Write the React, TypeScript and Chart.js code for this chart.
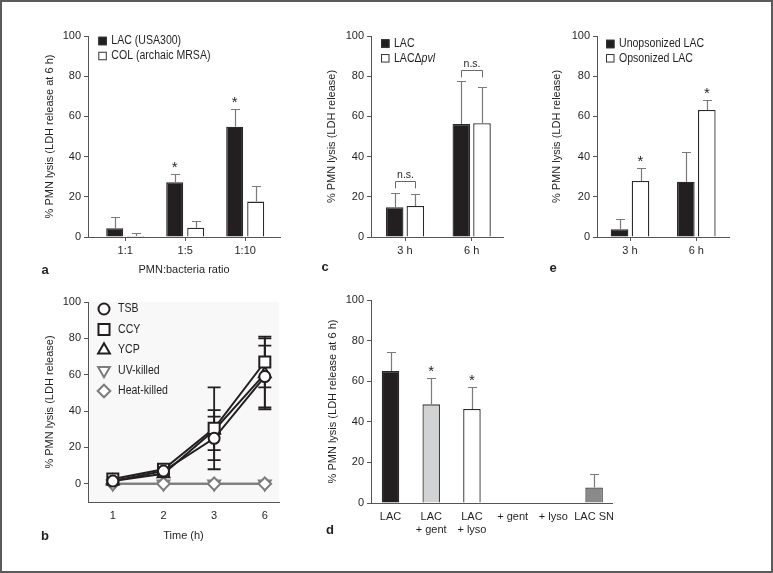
import React, { useEffect, useRef } from "react";
import { Chart, registerables } from "chart.js";
import { drawPoint } from "chart.js/helpers";
Chart.register(...registerables);

const W = 773;
const H = 573;
const SANS = '"Liberation Sans", Arial, Helvetica, sans-serif';
const INK = "#231f20";
const AXIS = "#555555";
const ERR = "#7a7a7a";
const BLACK = "#231f20";
const WHITE = "#ffffff";
const GRAY = "#7d7d7d";

// ---------- Panel a ----------
const aCategories = ["1:1", "1:5", "1:10"];
const aLAC = [4.3, 27.2, 54.9];
const aLACErr = [5.8, 4.1, 8.8];
const aCOL = [0.5, 4.6, 17.6];
const aCOLErr = [1.3, 3.4, 7.8];
const aStarBars = [1, 2];

// ---------- Panel b ----------
const bTimes = ["1", "2", "3", "6"];
const bTSB = [1.5, 7, 25, 59];
const bTSBErr = [0, 0, 12, 17];
const bCCY = [2.6, 8, 30.5, 67];
const bCCYErr = [0, 0, 22.5, 14];
const bYCP = [1.5, 5.5, 29.5, 60.5];
const bYCPErr = [0, 0, 11, 19.5];
const bUV = [0, 0, 0, 0];
const bHeat = [0, 0, 0, 0];

// ---------- Panel c ----------
const cCategories = ["3 h", "6 h"];
const cLAC = [14.8, 56.2];
const cLACErr = [7.2, 21.3];
const cPVL = [15.4, 56.6];
const cPVLErr = [6.1, 18.0];
const cBracketTop = [28, 83];
const cBracketLeg = [24.2, 79.4];

// ---------- Panel d ----------
const dCategories = [["LAC"], ["LAC", "+ gent"], ["LAC", "+ lyso"], ["+ gent"], ["+ lyso"], ["LAC SN"]];
const dValues = [65, 48.6, 46.3, 0.3, 0.3, 7.6];
const dErr = [9.4, 13.1, 10.7, 0, 0, 6.7];
const dStarBars = [1, 2];

// ---------- Panel e ----------
const eCategories = ["3 h", "6 h"];
const eUnops = [3.8, 27.5];
const eUnopsErr = [5.0, 14.9];
const eOps = [27.9, 63.2];
const eOpsErr = [6.3, 4.8];
const eStarBars = [0, 1];

const yTickValues = [0, 20, 40, 60, 80, 100];

function pad(L: number, R: number, T: number, B: number, yw: number, xh: number) {
  return { left: L - yw, right: W - R, top: T, bottom: H - B - xh };
}

function yAxis(min: number, max: number, width: number, title: string) {
  return {
    type: "linear",
    min,
    max,
    afterBuildTicks: (s: any) => {
      s.ticks = yTickValues.map((v) => ({ value: v }));
    },
    afterFit: (s: any) => {
      s.width = width;
    },
    grid: { display: true, drawOnChartArea: false, drawTicks: true, tickLength: 4, color: AXIS, lineWidth: 1 },
    border: { display: true, color: AXIS, width: 1 },
    ticks: { padding: 3, color: INK, font: { family: SANS, size: 11 } },
    title: { display: true, text: title, color: INK, font: { family: SANS, size: 11 }, padding: 0 },
  };
}

function xAxis(min: number, max: number, labels: any[], height: number, title: string | null, showTicks: boolean) {
  return {
    type: "linear",
    min,
    max,
    offset: false,
    afterBuildTicks: (s: any) => {
      s.ticks = labels.map((_: any, i: number) => ({ value: i }));
    },
    afterFit: (s: any) => {
      s.height = height;
    },
    grid: {
      display: true,
      offset: false,
      drawOnChartArea: false,
      drawTicks: true,
      tickLength: 4,
      color: showTicks ? AXIS : "rgba(0,0,0,0)",
      lineWidth: 1,
    },
    border: { display: true, color: AXIS, width: 1 },
    ticks: {
      padding: 3,
      autoSkip: false,
      maxRotation: 0,
      minRotation: 0,
      color: INK,
      font: { family: SANS, size: 11 },
      callback: (v: any) => labels[Math.round(Number(v))],
    },
    title: title
      ? { display: true, text: title, color: INK, font: { family: SANS, size: 11 }, padding: 0 }
      : { display: false },
  };
}

const common = {
  responsive: false,
  animation: false,
  devicePixelRatio: 1,
  events: [],
  plugins: { legend: { display: false }, tooltip: { enabled: false } },
};

function barDs(label: string, values: number[], fill: any, border: any, cat: number, bar: number) {
  return {
    label,
    data: values.map((y, i) => ({ x: i, y })),
    backgroundColor: fill,
    borderColor: border,
    borderWidth: 1.3,
    categoryPercentage: cat,
    barPercentage: bar,
  };
}

function errPlugin(errs: number[][], capHalf = 4.5) {
  return {
    id: "barErrors",
    afterDatasetsDraw(chart: any) {
      const ctx = chart.ctx;
      const ys = chart.scales.y;
      ctx.save();
      ctx.strokeStyle = ERR;
      ctx.lineWidth = 1.2;
      chart.data.datasets.forEach((ds: any, di: number) => {
        const e = errs[di];
        if (!e) return;
        const meta = chart.getDatasetMeta(di);
        meta.data.forEach((el: any, i: number) => {
          if (!e[i]) return;
          const v = ds.data[i].y;
          const y0 = ys.getPixelForValue(v);
          const y1 = ys.getPixelForValue(v + e[i]);
          const x = Math.round(el.x) + 0.5;
          ctx.beginPath();
          ctx.moveTo(x, y0);
          ctx.lineTo(x, Math.round(y1) + 0.5);
          ctx.moveTo(x - capHalf, Math.round(y1) + 0.5);
          ctx.lineTo(x + capHalf, Math.round(y1) + 0.5);
          ctx.stroke();
        });
      });
      ctx.restore();
    },
  };
}

function extras(fn: (ctx: CanvasRenderingContext2D, chart: any) => void) {
  return {
    id: "extras",
    afterDraw(chart: any) {
      const ctx = chart.ctx;
      ctx.save();
      fn(ctx, chart);
      ctx.restore();
    },
  };
}

// condensed legend text (the original typeface is narrower than the installed sans)
function condText(ctx: CanvasRenderingContext2D, text: string, x: number, y: number, italic = false) {
  const sx = 0.88;
  ctx.font = `${italic ? "italic " : ""}12px ${SANS}`;
  ctx.save();
  ctx.translate(x, y);
  ctx.scale(sx, 1);
  ctx.fillText(text, 0, 0);
  ctx.restore();
  return ctx.measureText(text).width * sx;
}

function letter(ctx: CanvasRenderingContext2D, t: string, x: number, y: number) {
  ctx.fillStyle = INK;
  ctx.font = `bold 13px ${SANS}`;
  ctx.textAlign = "center";
  ctx.textBaseline = "middle";
  ctx.fillText(t, x, y);
}

function squareLegend(
  ctx: CanvasRenderingContext2D,
  x: number,
  ys: number[],
  items: { parts: { text: string; italic?: boolean }[]; fill: string }[]
) {
  const s = 8.5;
  items.forEach((it, i) => {
    const y = ys[i];
    ctx.fillStyle = it.fill;
    ctx.fillRect(x, y - s / 2, s, s);
    ctx.strokeStyle = "#333";
    ctx.lineWidth = 1;
    ctx.strokeRect(x + 0.5, y - s / 2 + 0.5, s - 1, s - 1);
    ctx.fillStyle = INK;
    ctx.textAlign = "left";
    ctx.textBaseline = "middle";
    let tx = x + s + 4.5;
    it.parts.forEach((p) => {
      tx += condText(ctx, p.text, tx, y, !!p.italic);
    });
  });
}

function stars(ctx: CanvasRenderingContext2D, chart: any, di: number, idx: number[], values: number[], errs: number[]) {
  const meta = chart.getDatasetMeta(di);
  const ys = chart.scales.y;
  ctx.fillStyle = INK;
  ctx.font = `15px ${SANS}`;
  ctx.textAlign = "center";
  ctx.textBaseline = "alphabetic";
  idx.forEach((i) => {
    const cap = ys.getPixelForValue(values[i] + errs[i]);
    ctx.fillText("*", meta.data[i].x, cap - 2);
  });
}

function cfgA() {
  const L = 88, R = 280, T = 36, B = 237, yw = 44.6, xh = 39.6;
  return {
    type: "bar",
    data: {
      datasets: [
        barDs("LAC (USA300)", aLAC, BLACK, "#2a2a2a", 0.7, 0.81),
        barDs("COL (archaic MRSA)", aCOL, WHITE, "#2a2a2a", 0.7, 0.81),
      ],
    },
    options: {
      ...common,
      layout: { padding: pad(L, R, T, B, yw, xh) },
      scales: {
        x: xAxis(-0.62, 2.58, aCategories, xh, "PMN:bacteria ratio", true),
        y: yAxis(0, 100, yw, "% PMN lysis (LDH release at 6 h)"),
      },
    },
    plugins: [
      errPlugin([aLACErr, aCOLErr]),
      extras((ctx, chart) => {
        squareLegend(ctx, 98.3, [41, 56], [
          { parts: [{ text: "LAC (USA300)" }], fill: BLACK },
          { parts: [{ text: "COL (archaic MRSA)" }], fill: WHITE },
        ]);
        stars(ctx, chart, 0, aStarBars, aLAC, aLACErr);
        letter(ctx, "a", 45, 270);
      }),
    ],
  };
}

function cfgC() {
  const L = 371, R = 503, T = 36, B = 237, yw = 45.9, xh = 30;
  return {
    type: "bar",
    data: {
      datasets: [
        barDs("LAC", cLAC, BLACK, "#2a2a2a", 0.62, 0.85),
        barDs("LACΔpvl", cPVL, WHITE, "#2a2a2a", 0.62, 0.85),
      ],
    },
    options: {
      ...common,
      layout: { padding: pad(L, R, T, B, yw, xh) },
      scales: {
        x: xAxis(-0.51, 1.47, cCategories, xh, null, true),
        y: yAxis(0, 100, yw, "% PMN lysis (LDH release)"),
      },
    },
    plugins: [
      errPlugin([cLACErr, cPVLErr]),
      extras((ctx, chart) => {
        squareLegend(ctx, 381, [43.5, 58.3], [
          { parts: [{ text: "LAC" }], fill: BLACK },
          { parts: [{ text: "LACΔ" }, { text: "pvl", italic: true }], fill: WHITE },
        ]);
        const m0 = chart.getDatasetMeta(0);
        const m1 = chart.getDatasetMeta(1);
        const ys = chart.scales.y;
        cCategories.forEach((_, i) => {
          const x0 = Math.round(m0.data[i].x) + 0.5;
          const x1 = Math.round(m1.data[i].x) + 0.5;
          const yt = Math.round(ys.getPixelForValue(cBracketTop[i])) + 0.5;
          const yl = ys.getPixelForValue(cBracketLeg[i]);
          ctx.strokeStyle = "#6a6a6a";
          ctx.lineWidth = 1;
          ctx.beginPath();
          ctx.moveTo(x0, yl);
          ctx.lineTo(x0, yt);
          ctx.lineTo(x1, yt);
          ctx.lineTo(x1, yl);
          ctx.stroke();
          ctx.fillStyle = INK;
          ctx.font = `10.5px ${SANS}`;
          ctx.textAlign = "center";
          ctx.textBaseline = "alphabetic";
          ctx.fillText("n.s.", (x0 + x1) / 2, yt - 4);
        });
        letter(ctx, "c", 325, 267);
      }),
    ],
  };
}

function cfgE() {
  const L = 597, R = 729, T = 36, B = 237, yw = 46.9, xh = 30;
  return {
    type: "bar",
    data: {
      datasets: [
        barDs("Unopsonized LAC", eUnops, BLACK, "#2a2a2a", 0.633, 0.84),
        barDs("Opsonized LAC", eOps, WHITE, "#2a2a2a", 0.633, 0.84),
      ],
    },
    options: {
      ...common,
      layout: { padding: pad(L, R, T, B, yw, xh) },
      scales: {
        x: xAxis(-0.498, 1.493, eCategories, xh, null, true),
        y: yAxis(0, 100, yw, "% PMN lysis (LDH release)"),
      },
    },
    plugins: [
      errPlugin([eUnopsErr, eOpsErr]),
      extras((ctx, chart) => {
        squareLegend(ctx, 606, [44, 58.3], [
          { parts: [{ text: "Unopsonized LAC" }], fill: BLACK },
          { parts: [{ text: "Opsonized LAC" }], fill: WHITE },
        ]);
        stars(ctx, chart, 1, eStarBars, eOps, eOpsErr);
        letter(ctx, "e", 553, 268);
      }),
    ],
  };
}

function cfgD() {
  const L = 371, R = 612, T = 300, B = 503, yw = 44.3, xh = 40;
  const fills = [BLACK, "#d1d2d3", WHITE, "#dadada", "#dadada", "#8a8a8a"];
  const borders = ["#2a2a2a", "#3a3a3a", "#2a2a2a", "#c4c4c4", "#c4c4c4", "#3a3a3a"];
  return {
    type: "bar",
    data: {
      datasets: [barDs("d", dValues, fills, borders, 0.8, 0.5375)],
    },
    options: {
      ...common,
      layout: { padding: pad(L, R, T, B, yw, xh) },
      scales: {
        x: xAxis(-0.479, 5.44, dCategories, xh, null, false),
        y: yAxis(0, 100, yw, "% PMN lysis (LDH release at 6 h)"),
      },
    },
    plugins: [
      errPlugin([dErr]),
      extras((ctx, chart) => {
        stars(ctx, chart, 0, dStarBars, dValues, dErr);
        letter(ctx, "d", 330, 530);
      }),
    ],
  };
}

const bSeries = [
  { label: "TSB", data: bTSB, err: bTSBErr, style: "circle", radius: 5.5, rot: 0, color: BLACK, order: 0 },
  { label: "CCY", data: bCCY, err: bCCYErr, style: "rect", radius: 7.8, rot: 0, color: BLACK, order: 1 },
  { label: "YCP", data: bYCP, err: bYCPErr, style: "triangle", radius: 6.8, rot: 0, color: BLACK, order: 2 },
  { label: "UV-killed", data: bUV, err: null, style: "triangle", radius: 6.8, rot: 180, color: GRAY, order: 4 },
  { label: "Heat-killed", data: bHeat, err: null, style: "rectRot", radius: 6.3, rot: 0, color: GRAY, order: 3 },
];

function cfgB() {
  const L = 88, R = 279, T = 302, B = 502, yw = 44.6, xh = 40.6;
  return {
    type: "line",
    data: {
      datasets: bSeries.map((s) => ({
        label: s.label,
        data: s.data.map((y, i) => ({ x: i, y })),
        borderColor: s.color,
        borderWidth: 2,
        pointStyle: s.style,
        pointRadius: s.radius,
        pointRotation: s.rot,
        pointBorderWidth: 2,
        pointBorderColor: s.color,
        pointBackgroundColor: WHITE,
        order: s.order,
        tension: 0,
        clip: false,
      })),
    },
    options: {
      ...common,
      layout: { padding: pad(L, R, T, B, yw, xh) },
      scales: {
        x: xAxis(-0.49, 3.28, bTimes, xh, "Time (h)", false),
        y: yAxis(-10, 100, yw, "% PMN lysis (LDH release)"),
      },
    },
    plugins: [
      {
        id: "bgfill",
        beforeDraw(chart: any) {
          const { ctx, chartArea } = chart;
          ctx.save();
          ctx.fillStyle = "#f8f8f8";
          ctx.fillRect(chartArea.left, chartArea.top, chartArea.right - chartArea.left, chartArea.bottom - chartArea.top);
          ctx.restore();
        },
        beforeDatasetsDraw(chart: any) {
          const ctx = chart.ctx;
          const ys = chart.scales.y;
          const xs = chart.scales.x;
          ctx.save();
          ctx.lineWidth = 1.8;
          bSeries.forEach((s) => {
            if (!s.err) return;
            ctx.strokeStyle = s.color;
            s.data.forEach((v, i) => {
              const e = s.err![i];
              if (!e) return;
              const x = xs.getPixelForValue(i);
              const yTop = ys.getPixelForValue(v + e);
              const yBot = ys.getPixelForValue(v - e);
              ctx.beginPath();
              ctx.moveTo(x, yTop);
              ctx.lineTo(x, yBot);
              ctx.moveTo(x - 6.5, yTop);
              ctx.lineTo(x + 6.5, yTop);
              ctx.moveTo(x - 6.5, yBot);
              ctx.lineTo(x + 6.5, yBot);
              ctx.stroke();
            });
          });
          ctx.restore();
        },
      },
      extras((ctx) => {
        bSeries.forEach((s, i) => {
          const y = 309 + i * 20.5;
          ctx.fillStyle = WHITE;
          ctx.strokeStyle = s.color;
          ctx.lineWidth = 2;
          drawPoint(ctx, { pointStyle: s.style as any, rotation: s.rot, radius: s.radius, borderWidth: 2 }, 104, y);
          ctx.fillStyle = INK;
          ctx.textAlign = "left";
          ctx.textBaseline = "middle";
          condText(ctx, s.label, 118, y);
        });
        letter(ctx, "b", 45, 536);
      }),
    ],
  };
}

export default function App() {
  const r0 = useRef<HTMLCanvasElement>(null);
  const r1 = useRef<HTMLCanvasElement>(null);
  const r2 = useRef<HTMLCanvasElement>(null);
  const r3 = useRef<HTMLCanvasElement>(null);
  const r4 = useRef<HTMLCanvasElement>(null);
  const refs = [r0, r1, r2, r3, r4];
  useEffect(() => {
    const cfgs = [cfgA(), cfgB(), cfgC(), cfgD(), cfgE()];
    const charts = cfgs.map((cfg, i) => new Chart(refs[i].current as HTMLCanvasElement, cfg as any));
    return () => charts.forEach((c) => c.destroy());
  }, []);
  return (
    <div style={{ position: "fixed", left: 0, top: 0, width: W, height: H, background: "#fff", overflow: "hidden" }}>
      {refs.map((r, i) => (
        <canvas
          key={i}
          ref={r}
          width={W}
          height={H}
          style={{ position: "absolute", left: 0, top: 0, width: W, height: H }}
        />
      ))}
      <div
        style={{
          position: "absolute",
          left: 0,
          top: 0,
          width: W,
          height: H,
          border: "2px solid #5b5b5b",
          boxSizing: "border-box",
          pointerEvents: "none",
        }}
      />
    </div>
  );
}
